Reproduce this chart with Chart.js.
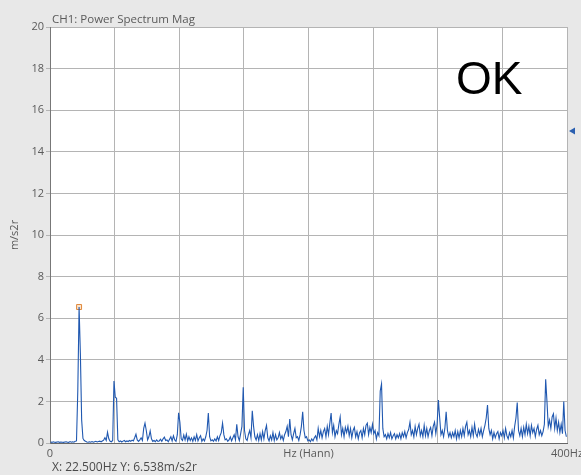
<!DOCTYPE html>
<html>
<head>
<meta charset="utf-8">
<script src="https://cdn.jsdelivr.net/npm/chart.js@4.4.0/dist/chart.umd.min.js"></script>
<style>
  html, body { margin: 0; padding: 0; background: #e8e8e8; }
  #wrap { position: relative; width: 581px; height: 475px; }
</style>
</head>
<body>
<div id="wrap"><canvas id="spec" width="581" height="475"></canvas></div>
<script>
// spectrum bins: 0.5 Hz, 1.5 Hz, ... 399.5 Hz
const hzStart = 0.5, hzStep = 1;
const mags = [
  0.05,0.03,0.06,0.04,0.03,0.05,0.06,0.03,0.05,0.04,
  0.03,0.05,0.06,0.04,0.03,0.07,0.04,0.06,0.04,0.08,
  0.1,2.5,6.54,4.3,1.1,0.22,0.12,0.08,0.05,0.04,
  0.06,0.04,0.07,0.04,0.06,0.08,0.05,0.07,0.09,0.06,
  0.1,0.14,0.25,0.12,0.52,0.2,0.08,0.06,0.12,2.98,
  2.2,2.15,0.15,0.06,0.1,0.05,0.09,0.12,0.06,0.1,
  0.07,0.12,0.08,0.14,0.1,0.25,0.42,0.15,0.08,0.15,
  0.25,0.12,0.7,0.95,0.6,0.15,0.3,0.58,0.2,0.08,
  0.12,0.06,0.15,0.08,0.1,0.18,0.08,0.2,0.28,0.12,
  0.15,0.06,0.18,0.3,0.1,0.35,0.15,0.08,0.4,1.45,
  1.0,0.2,0.12,0.38,0.15,0.42,0.1,0.3,0.12,0.25,
  0.08,0.3,0.12,0.4,0.1,0.25,0.35,0.08,0.2,0.1,
  0.3,0.6,1.44,0.3,0.1,0.15,0.08,0.2,0.1,0.3,
  0.12,0.35,0.5,0.95,0.4,0.15,0.2,0.08,0.15,0.3,
  0.1,0.25,0.4,0.15,0.9,0.3,0.12,0.45,0.8,2.68,
  0.6,0.2,0.12,0.4,0.6,0.25,1.55,0.8,0.3,0.15,
  0.4,0.12,0.45,0.15,0.55,0.2,0.6,0.85,0.25,0.1,
  0.35,0.15,0.5,0.12,0.4,0.15,0.25,0.5,0.2,0.35,
  0.12,0.4,0.55,0.8,0.3,1.15,0.4,0.15,0.45,0.7,
  0.25,0.3,0.12,0.4,0.8,1.5,0.6,0.25,0.3,0.1,
  0.15,0.06,0.2,0.1,0.25,0.35,0.15,0.7,0.3,0.6,
  0.25,0.55,0.7,0.3,0.8,0.4,0.95,1.44,0.5,0.85,
  0.3,0.6,0.45,0.9,1.25,0.4,0.7,0.3,0.75,0.5,
  0.8,0.35,0.7,0.25,0.6,0.75,0.3,0.55,0.2,0.5,
  0.6,0.25,0.7,0.4,0.85,0.95,0.4,0.75,0.5,0.9,
  0.45,0.6,0.2,0.5,0.35,2.5,2.84,0.7,0.3,0.4,
  0.2,0.45,0.25,0.5,0.2,0.35,0.45,0.2,0.4,0.25,
  0.45,0.2,0.5,0.3,0.55,0.25,0.5,0.65,1.0,0.4,
  0.6,0.3,0.8,0.4,0.7,0.9,0.35,0.6,0.3,0.85,
  0.35,0.7,0.3,0.6,0.75,0.35,0.8,1.0,0.45,0.9,
  2.06,1.2,0.4,0.6,0.3,0.7,1.5,0.6,0.3,0.5,
  0.25,0.5,0.3,0.6,0.2,0.55,0.25,0.6,0.3,0.7,
  0.35,0.8,1.0,0.4,0.6,0.3,0.75,0.35,0.9,0.45,
  0.3,0.65,0.4,0.7,0.3,0.6,0.85,1.2,1.83,0.7,
  0.4,0.6,0.2,0.5,0.25,0.45,0.55,0.2,0.5,0.35,
  0.6,0.25,0.7,0.35,0.2,0.5,0.3,0.6,0.25,0.8,
  1.2,1.95,0.6,0.35,0.7,0.3,0.75,0.4,0.9,0.45,
  0.8,0.35,0.85,0.5,0.7,0.3,0.65,0.85,0.4,0.6,
  0.35,0.55,0.9,3.06,2.0,0.8,1.1,0.7,1.25,1.4,
  0.7,1.2,0.6,1.0,0.5,0.9,0.45,2.0,0.6,0.3
];
const markerHz = [22.5], markerMag = [6.538];
const refMag = 15;
const xTickLabels = {0: "0", 200: "Hz (Hann)", 400: "400Hz"};
const titleText = "CH1: Power Spectrum Mag";
const statusText = "X: 22.500Hz Y: 6.538m/s2r";

const spectrum = mags.map((m, i) => ({x: hzStart + i * hzStep, y: m}));
const marker = markerHz.map((h, i) => ({x: h, y: markerMag[i]}));

const labelFont = {family: "'Open Sans', 'DejaVu Sans', sans-serif", size: 11};
const textGray = "#5a5a5a";

// white plot area, title, OK, reference arrow and cursor readout
const decor = {
  id: "decor",
  beforeDraw(chart) {
    const {ctx, chartArea: a} = chart;
    ctx.save();
    ctx.fillStyle = "#ffffff";
    ctx.fillRect(a.left, a.top, a.right - a.left, a.bottom - a.top);
    ctx.restore();
  },
  afterDraw(chart) {
    const {ctx, chartArea: a} = chart;
    ctx.save();
    ctx.fillStyle = textGray;
    ctx.font = "11.5px 'Open Sans', 'DejaVu Sans', sans-serif";
    ctx.fillText(titleText, a.left + 2, a.top - 4);
    ctx.font = "12px 'Open Sans', 'DejaVu Sans', sans-serif";
    ctx.fillStyle = "#4a4a4a";
    ctx.fillText(statusText, a.left + 2, 471);
    ctx.fillStyle = "#000000";
    ctx.font = "46px 'Liberation Sans', Arial, sans-serif";
    ctx.fillText("OK", 456, 94);
    // reference level arrow outside the right edge
    const ry = chart.scales.y.getPixelForValue(refMag);
    const rx = a.right + 2;
    ctx.fillStyle = "#2a5fb0";
    ctx.beginPath();
    ctx.moveTo(rx, ry);
    ctx.lineTo(rx + 6, ry - 3.5);
    ctx.lineTo(rx + 6, ry + 3.5);
    ctx.closePath();
    ctx.fill();
    ctx.restore();
  }
};

new Chart(document.getElementById("spec"), {
  type: "line",
  data: {
    datasets: [
      {
        data: spectrum,
        borderColor: "rgb(32, 88, 176)",
        borderWidth: 1.1,
        pointRadius: 0,
        tension: 0
      },
      {
        data: marker,
        showLine: false,
        pointStyle: "rect",
        pointRadius: 3.5,
        borderWidth: 1,
        borderColor: "#e0883a",
        backgroundColor: "rgba(250, 205, 160, 0.5)"
      }
    ]
  },
  options: {
    responsive: false,
    animation: false,
    layout: {padding: {top: 27, right: 14, left: 0, bottom: 0}},
    plugins: {legend: {display: false}, tooltip: {enabled: false}},
    scales: {
      x: {
        type: "linear",
        min: 0,
        max: 400,
        afterFit(scale) {
          scale.height = 32;
          scale.paddingRight = 0;
          scale.paddingLeft = 0;
        },
        ticks: {
          stepSize: 50,
          maxRotation: 0,
          autoSkip: false,
          padding: 4,
          color: textGray,
          font: labelFont,
          callback: v => xTickLabels[v] !== undefined ? xTickLabels[v] : ""
        },
        grid: {color: "#b4b4b4", lineWidth: 1, tickLength: 0},
        border: {color: "#666666", width: 1}
      },
      y: {
        min: 0,
        max: 20,
        afterFit(scale) { scale.width = 50; },
        ticks: {stepSize: 2, color: textGray, font: labelFont, padding: 2},
        title: {display: true, text: "m/s2r", color: textGray, font: labelFont, padding: {top: 8, bottom: 0}},
        grid: {color: "#b4b4b4", lineWidth: 1, tickLength: 4},
        border: {color: "#777777", width: 1}
      }
    }
  },
  plugins: [decor]
});
</script>
</body>
</html>
